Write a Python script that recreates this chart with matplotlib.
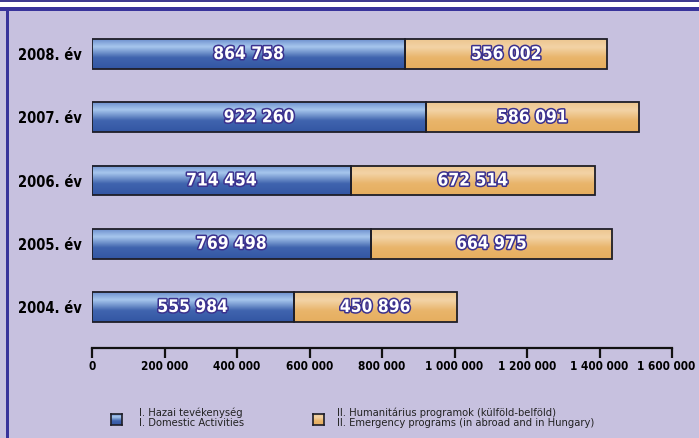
import numpy as np
import matplotlib.pyplot as plt
import matplotlib.patheffects as pe
import matplotlib.transforms as mtransforms
from matplotlib import font_manager
from matplotlib.colors import LinearSegmentedColormap

# adatok (2004 -> 2008)
evek = ['2004. év', '2005. év', '2006. év', '2007. év', '2008. év']
hazai = [555984, 769498, 714454, 922260, 864758]
humanitarius = [450896, 664975, 672514, 586091, 556002]
tick_ertekek = [0, 200000, 400000, 600000, 800000, 1000000, 1200000, 1400000, 1600000]
tick_cimkek = ['0', '200 000', '400 000', '600 000', '800 000', '1 000 000',
               '1 200 000', '1 400 000', '1 600 000']
legend_hu = ['I. Hazai tevékenység', 'II. Humanitárius programok (külföld-belföld)']
legend_en = ['I. Domestic Activities', 'II. Emergency programs (in abroad and in Hungary)']

# keskeny betutipus keresese, ha nincs akkor Roboto
nevek = {f.name for f in font_manager.fontManager.ttflist}
keskeny = [f.name for f in font_manager.fontManager.ttflist
           if 'Narrow' in f.name or 'Condensed' in f.name
           or str(f.stretch) in ('condensed', 'semi-condensed', 'extra-condensed')]
if 'Liberation Sans Narrow' in nevek:
    FONT, STRETCH = 'Liberation Sans Narrow', 'normal'
elif keskeny:
    FONT, STRETCH = keskeny[0], 'condensed'
else:
    FONT, STRETCH = 'Roboto', 'normal'
CONDENSED = [FONT, 'DejaVu Sans']
BG = '#C7C1DF'

kek = LinearSegmentedColormap.from_list('kek', [
    (0.0, '#6E90CE'), (0.25, '#A8C8EE'), (0.62, '#4064AE'), (1.0, '#3356A3')])
narancs = LinearSegmentedColormap.from_list('narancs', [
    (0.0, '#EDC690'), (0.27, '#F3D3A6'), (0.62, '#E9B56B'), (1.0, '#E6AE5F')])
grad = np.linspace(0, 1, 64).reshape(-1, 1)

W, H = 699, 438
fig = plt.figure(figsize=(W / 100, H / 100), dpi=100)
fig.patch.set_facecolor(BG)

# keret: felso csik es bal oldali vonal
fig.patches.append(plt.Rectangle((0, 1 - 10 / H), 1, 10 / H, transform=fig.transFigure,
                                 facecolor='white', edgecolor='none'))
fig.patches.append(plt.Rectangle((0, 1 - 2 / H), 1, 2 / H, transform=fig.transFigure,
                                 facecolor='#3E3A90', edgecolor='none'))
fig.patches.append(plt.Rectangle((0, 1 - 11 / H), 1, 4 / H, transform=fig.transFigure,
                                 facecolor='#38339B', edgecolor='none'))
fig.patches.append(plt.Rectangle((6 / W, 0), 3 / W, 1 - 10 / H, transform=fig.transFigure,
                                 facecolor='#38339B', edgecolor='none'))

ax_left, ax_right = 92, 672
ax_bottom, ax_top = 348, 20
ax = fig.add_axes([ax_left / W, (H - ax_bottom) / H, (ax_right - ax_left) / W,
                   (ax_bottom - ax_top) / H])
ax.set_facecolor('none')

pos = np.arange(len(evek))
bh = 0.474
for i in pos:
    bal = 0
    for ertek, cmap in ((hazai[i], kek), (humanitarius[i], narancs)):
        ax.imshow(grad, cmap=cmap, aspect='auto', interpolation='bicubic',
                  extent=[bal, bal + ertek, i - bh / 2, i + bh / 2], zorder=2)
        bal += ertek
ax.barh(pos, hazai, height=bh, fill=False, edgecolor='#1E1E28', linewidth=1.3, zorder=3)
ax.barh(pos, humanitarius, left=hazai, height=bh, fill=False, edgecolor='#1E1E28',
        linewidth=1.3, zorder=3)

effekt = [pe.withStroke(linewidth=2.2, foreground='#3B318E')]
szoveg = dict(ha='center', va='center', color='white', fontsize=12.5, fontweight='bold',
              family=CONDENSED, fontstretch=STRETCH, path_effects=effekt, zorder=4)
for i in pos:
    ax.text(hazai[i] / 2, i, f'{hazai[i]:,}'.replace(',', ' '), **szoveg)
    ax.text(hazai[i] + humanitarius[i] / 2, i, f'{humanitarius[i]:,}'.replace(',', ' '),
            **szoveg)

ax.set_xlim(0, 1600000)
ax.set_ylim(-41 / 63.25, (ax_bottom - ax_top) / 63.25 - 41 / 63.25)

for s in ['top', 'right', 'left']:
    ax.spines[s].set_visible(False)
ax.spines['bottom'].set_linewidth(1.6)
ax.spines['bottom'].set_color('#111111')

ax.set_xticks(tick_ertekek)
ax.set_xticklabels(tick_cimkek, family=CONDENSED, fontstretch=STRETCH,
                   fontweight='bold', fontsize=8.5)
ax.tick_params(axis='x', direction='out', length=7, width=1.6, color='#111111', pad=1.5)
# utolso cimke kicsit balra, hogy beferjen
utolso = ax.get_xticklabels()[-1]
utolso.set_transform(utolso.get_transform() +
                     mtransforms.ScaledTranslation(-6 / 100, 0, fig.dpi_scale_trans))
ax.set_yticks(pos)
ax.set_yticklabels(evek, family=CONDENSED, fontstretch=STRETCH, fontweight='bold',
                   fontsize=10.5)
ax.tick_params(axis='y', length=0, pad=7)

# jelmagyarazat
for k, (cmap, sx, tx) in enumerate(((kek, 111, 139), (narancs, 313, 337))):
    lax = fig.add_axes([sx / W, (H - 425) / H, 11 / W, 11 / H])
    lax.imshow(grad, cmap=cmap, aspect='auto')
    lax.set_xticks([])
    lax.set_yticks([])
    for s in lax.spines.values():
        s.set_linewidth(1.2)
        s.set_color('#1E1E28')
    fig.text(tx / W, 1 - 417.5 / H, legend_hu[k] + '\n' + legend_en[k], family=CONDENSED,
             fontstretch=STRETCH, fontsize=8, va='center', linespacing=1.05,
             color='#222222')

fig.savefig('out.png', dpi=100, facecolor=BG)
